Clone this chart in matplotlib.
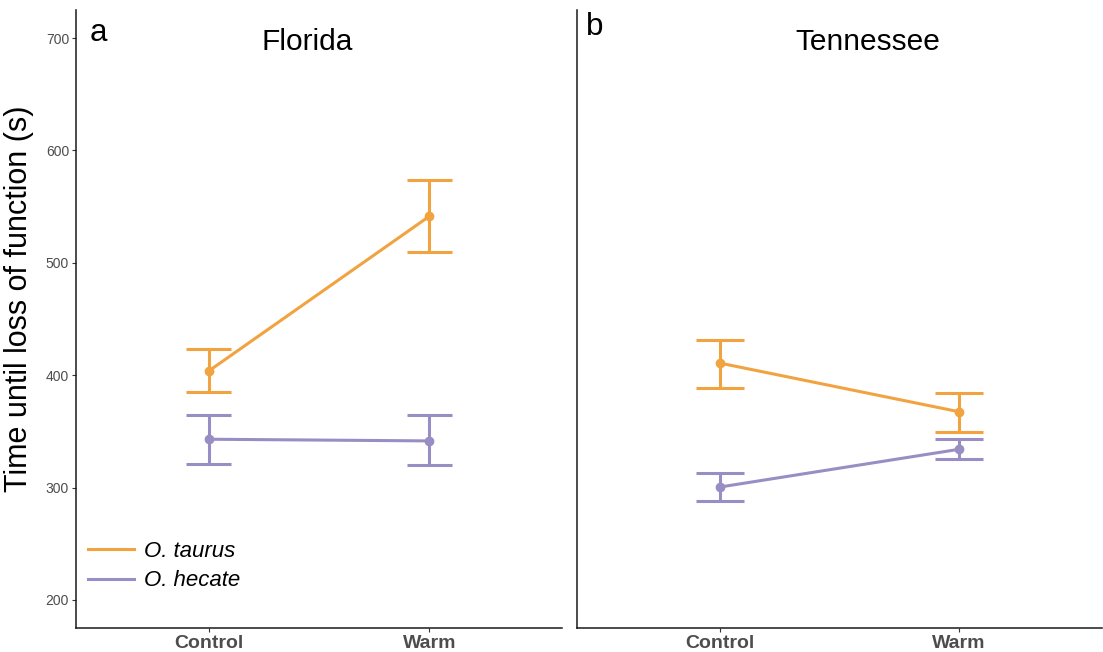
import matplotlib
matplotlib.use("Agg")
import matplotlib.pyplot as plt
from matplotlib.lines import Line2D

plt.rcParams['font.family'] = ['Liberation Sans', 'DejaVu Sans']

treatments = ["Control", "Warm"]
species = ["O. taurus", "O. hecate"]
colors = ["#f1a340", "#998ec3"]

# Florida
fl_mean = {"O. taurus": [403.6, 541.5], "O. hecate": [343.0, 341.5]}
fl_low = {"O. taurus": [385.0, 509.5], "O. hecate": [321.0, 320.0]}
fl_high = {"O. taurus": [423.0, 573.5], "O. hecate": [364.5, 364.5]}
# Tennessee
tn_mean = {"O. taurus": [410.7, 367.5], "O. hecate": [300.5, 334.0]}
tn_low = {"O. taurus": [388.5, 349.5], "O. hecate": [288.0, 325.5]}
tn_high = {"O. taurus": [431.5, 384.5], "O. hecate": [313.0, 343.0]}

panels = [("a", "Florida", 1.445, 0.029, 0.950, fl_mean, fl_low, fl_high),
          ("b", "Tennessee", 1.62, 0.018, 0.960, tn_mean, tn_low, tn_high)]

yticks = [200, 300, 400, 500, 600, 700]

W, H = 1103, 652
fig = plt.figure(figsize=(W / 100, H / 100), dpi=100)
bottom = (H - 628) / H
height = (628 - 10) / H
ax1 = fig.add_axes([76 / W, bottom, (562 - 76) / W, height])
ax2 = fig.add_axes([577 / W, bottom, (1102 - 577) / W, height])

for ax, (letter, title, tx, lx, ly, mean, low, high) in zip([ax1, ax2], panels):
    x = list(range(1, len(treatments) + 1))
    for sp, col in zip(species, colors):
        ax.plot(x, mean[sp], color=col, lw=2.2, marker='o', ms=6,
                solid_capstyle='butt', zorder=3)
        ax.vlines(x, low[sp], high[sp], color=col, lw=2.2, zorder=2)
        for xi, lo, hi in zip(x, low[sp], high[sp]):
            ax.hlines([lo, hi], xi - 0.1, xi + 0.1, color=col, lw=2.2, zorder=2)
    ax.set_xlim(0.4, 2.6)
    ax.set_ylim(175, 725)
    ax.set_xticks(x)
    ax.set_xticklabels(treatments, fontsize=14, fontweight='bold', color='#4D4D4D')
    ax.tick_params(axis='x', length=3, width=0.8, color='#333333', pad=2)
    for s in ['top', 'right']:
        ax.spines[s].set_visible(False)
    for s in ['left', 'bottom']:
        ax.spines[s].set_linewidth(1.1)
        ax.spines[s].set_color('#1a1a1a')
    ax.text(tx, 0.949, title, transform=ax.get_xaxis_transform(), fontsize=21.5,
            ha='center', va='center')
    ax.text(lx, ly, letter, transform=ax.transAxes, fontsize=22.5,
            va='baseline', ha='left')

ax1.set_yticks(yticks)
ax1.set_yticklabels([str(v) for v in yticks], fontsize=10, color='#4D4D4D')
ax1.tick_params(axis='y', length=3, width=0.8, color='#333333', pad=2)
ax1.set_ylabel("Time until loss of function (s)", fontsize=22)
ax1.yaxis.set_label_coords(-0.086, 0.532)

ax2.set_yticks([])

handles = [Line2D([0], [0], color=c, lw=2.2) for c in colors]
leg = ax1.legend(handles, species, loc='lower left', bbox_to_anchor=(-0.008, 0.034),
                 frameon=False, prop={'style': 'italic', 'size': 16},
                 handlelength=2.1, handletextpad=0.45, labelspacing=0.38,
                 borderaxespad=0.3)

fig.savefig("out.png", dpi=100)
